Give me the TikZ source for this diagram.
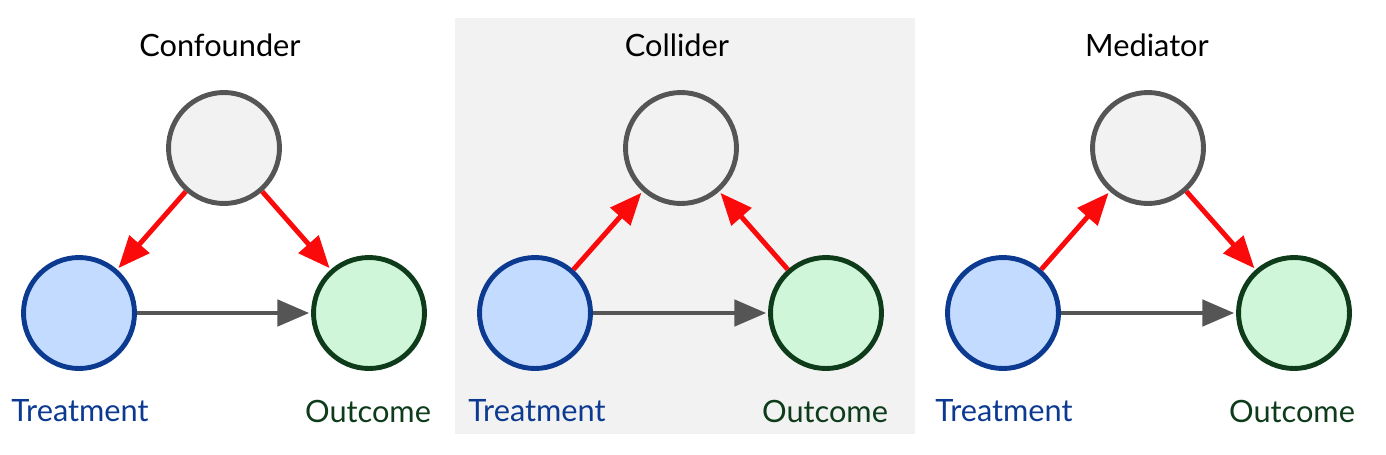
\documentclass[tikz,border=0pt]{standalone}
\usepackage{fontspec}
\setmainfont{Lato}
\usetikzlibrary{arrows.meta}
\definecolor{abunode}{RGB}{242,242,242}
\definecolor{abugaris}{RGB}{85,85,85}
\definecolor{birumuda}{RGB}{194,219,255}
\definecolor{birutua}{RGB}{12,58,145}
\definecolor{hijaumuda}{RGB}{208,246,218}
\definecolor{hijautua}{RGB}{14,60,26}
\definecolor{merah}{RGB}{250,10,10}

\begin{document}
\begin{tikzpicture}[x=0.02cm, y=-0.02cm, font=\fontsize{17.5}{21}\selectfont,
        var/.style={circle, line width=2.8pt, minimum size=2.22cm, inner sep=0pt},
        lain/.style={var, draw=abugaris, fill=abunode},
        perlakuan/.style={var, draw=birutua, fill=birumuda},
        hasil/.style={var, draw=hijautua, fill=hijaumuda},
        panah/.style={line width=2.8pt, shorten >=1pt,
                      -{Triangle[length=0.64cm, width=0.52cm]}},
        panahmerah/.style={panah, draw=merah, fill=merah},
        panahabu/.style={panah, draw=abugaris, fill=abugaris}
    ]
        \useasboundingbox (0,0) rectangle (1386,454);
        \fill[abunode] (455,18) rectangle (915,434);

        % confounder
        \node (judulA) at (220,45) {Confounder};
        \node[lain]      (zA) at (224,148) {};
        \node[perlakuan] (tA) at (79,313)  {};
        \node[hasil]     (yA) at (369,313) {};
        \node[text=birutua]  at (80,411)  {Treatment};
        \node[text=hijautua] at (368,411) {Outcome};
        \draw[panahmerah] (zA) -- (tA);
        \draw[panahmerah] (zA) -- (yA);
        \draw[panahabu]   (tA) -- (yA);

        % collider
        \node (judulB) at (677,45) {Collider};
        \node[lain]      (zB) at (681,148) {};
        \node[perlakuan] (tB) at (535,313) {};
        \node[hasil]     (yB) at (826,313) {};
        \node[text=birutua]  at (537,411) {Treatment};
        \node[text=hijautua] at (825,411) {Outcome};
        \draw[panahmerah] (tB) -- (zB);
        \draw[panahmerah] (yB) -- (zB);
        \draw[panahabu]   (tB) -- (yB);

        % mediator
        \node (judulC) at (1147,45) {Mediator};
        \node[lain]      (zC) at (1148,148) {};
        \node[perlakuan] (tC) at (1003,313) {};
        \node[hasil]     (yC) at (1294,313) {};
        \node[text=birutua]  at (1004,411) {Treatment};
        \node[text=hijautua] at (1292,411) {Outcome};
        \draw[panahmerah] (tC) -- (zC);
        \draw[panahmerah] (zC) -- (yC);
        \draw[panahabu]   (tC) -- (yC);
    \end{tikzpicture}
\end{document}
